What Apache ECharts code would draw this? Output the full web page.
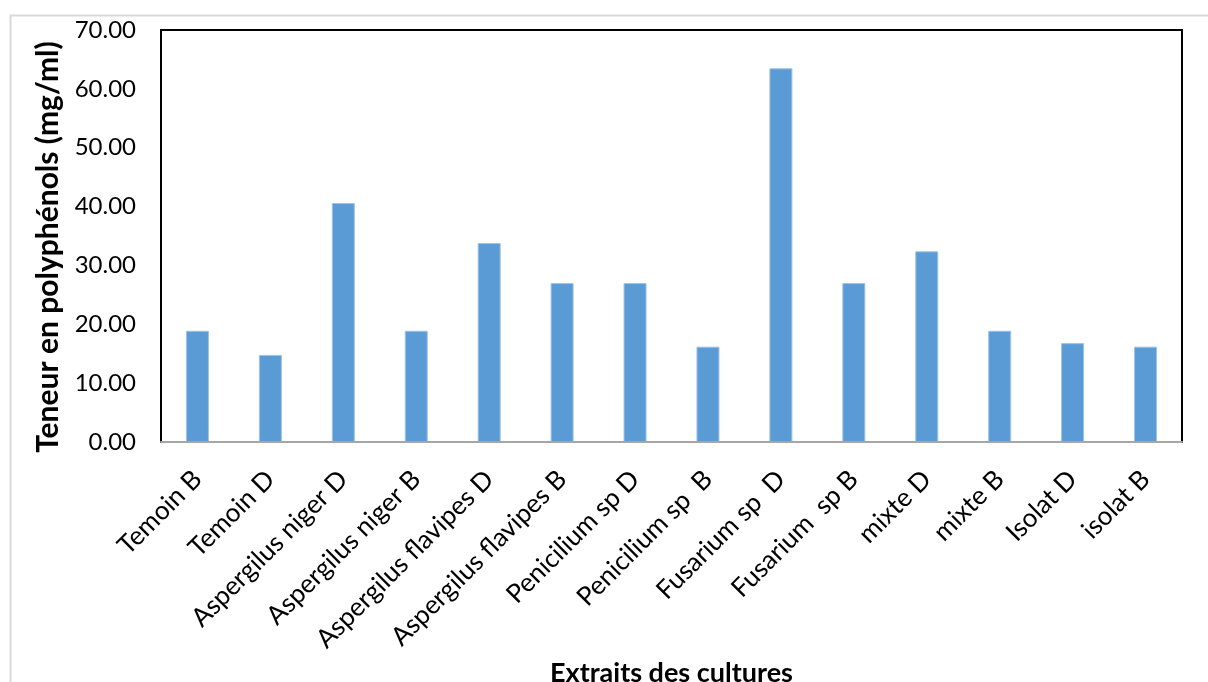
<!DOCTYPE html>
<html>
<head>
<meta charset="utf-8">
<script src="https://cdn.jsdelivr.net/npm/echarts@6/dist/echarts.min.js"></script>
<style>
  html, body { margin: 0; padding: 0; background: #fff; }
  #chart { width: 1208px; height: 682px; }
</style>
</head>
<body>
<div id="chart"></div>
<script>
// Culture extracts and their polyphenol content (mg/ml)
const categories = [
  'Temoin B', 'Temoin D', 'Aspergilus niger D', 'Aspergilus niger B',
  'Aspergilus flavipes D', 'Aspergilus flavipes B', 'Penicilium sp D',
  'Penicilium sp  B', 'Fusarium sp  D', 'Fusarium  sp B', 'mixte D',
  'mixte B', 'Isolat D', 'isolat B'
];
const polyphenols = [18.9, 14.8, 40.6, 18.9, 33.8, 27.0, 27.0, 16.2, 63.5, 27.0, 32.4, 18.9, 16.8, 16.2];
const yTicks = { min: 0, max: 70, interval: 10 };

const FONT = 'Lato, "Liberation Sans", sans-serif';
const chart = echarts.init(document.getElementById('chart'));

chart.setOption({
  animation: false,
  backgroundColor: '#fff',
  graphic: [{
    type: 'rect',
    left: 8, top: 13,
    shape: { width: 1220, height: 690 },
    style: { fill: 'none', stroke: '#d9d9d9', lineWidth: 2 },
    silent: true,
    z: -10
  }],
  grid: {
    left: 161, top: 30, right: 26, bottom: 240,
    containLabel: false,
    outerBoundsMode: 'none',
    show: true,
    borderColor: '#000',
    borderWidth: 2,
    backgroundColor: 'transparent'
  },
  xAxis: {
    type: 'category',
    data: categories,
    axisLine: { show: true, lineStyle: { color: '#a6a6a6', width: 2 } },
    axisTick: { show: false },
    axisLabel: {
      rotate: 45,
      interval: 0,
      margin: 33,
      color: '#000',
      fontSize: 26,
      fontFamily: FONT
    },
    name: 'Extraits des cultures',
    nameLocation: 'middle',
    nameGap: 216,
    nameTextStyle: { color: '#000', fontSize: 27, fontWeight: 'bold', fontFamily: FONT },
    z: 5
  },
  yAxis: {
    type: 'value',
    min: yTicks.min,
    max: yTicks.max,
    interval: yTicks.interval,
    splitLine: { show: false },
    axisLine: { show: false },
    axisTick: { show: false },
    axisLabel: {
      formatter: v => v.toFixed(2),
      color: '#000',
      fontSize: 24,
      fontFamily: FONT,
      margin: 25
    },
    name: 'Teneur en polyphénols (mg/ml)',
    nameLocation: 'middle',
    nameGap: 98,
    nameTextStyle: { color: '#000', fontSize: 30, fontWeight: 'bold', fontFamily: FONT, padding: [0, 22, 0, 0] }
  },
  series: [{
    type: 'bar',
    data: polyphenols,
    barWidth: 23,
    itemStyle: { color: '#5b9bd5', borderColor: '#9dc3e6', borderWidth: 1 }
  }]
});
</script>
</body>
</html>
